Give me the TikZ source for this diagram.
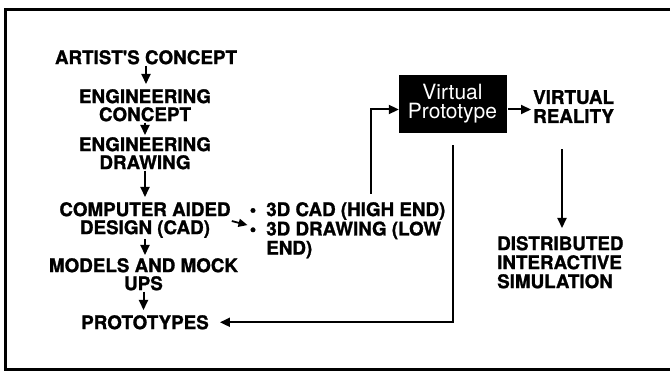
\documentclass[tikz,border=0pt]{standalone}
\usepackage{fontspec}
\setmainfont{TeX Gyre Heros}[BoldFeatures={FakeBold=1.2}]
\usetikzlibrary{arrows.meta}
\begin{document}
\begin{tikzpicture}[x=1pt,y=-1pt,
  lbl/.style={font=\bfseries\fontsize{18.8}{18}\selectfont, inner sep=0pt, align=center},
  lbll/.style={font=\bfseries\fontsize{18.8}{19}\selectfont, inner sep=0pt, align=left},
  arr/.style={line width=2pt, -{Triangle[length=10pt,width=9pt]}},
  vpbox/.style={fill=black, draw=black, minimum width=107pt, minimum height=57pt, inner sep=0pt,
    text=white, align=center, font=\fontsize{21}{19.5}\selectfont},
  frame/.style={line width=2.2pt}
]
\useasboundingbox (0,0) rectangle (670,374);
\draw[frame] (670,9.5) -- (5.5,9.5) -- (5.5,369.5) -- (670,369.5);

% left column
\node[lbl, anchor=north] (artist) at (146,50) {ARTIST\textquotesingle S CONCEPT};
\node[lbl, anchor=north] (engc) at (145,89) {ENGINEERING\\CONCEPT};
\node[lbl, anchor=north] (engd) at (145,137) {ENGINEERING\\DRAWING};
\node[lbl, anchor=north] (cad) at (145,202) {COMPUTER AIDED\\DESIGN (CAD)};
\node[lbl, anchor=north] (models) at (143.5,258) {MODELS AND MOCK\\UPS};
\node[lbl, anchor=north] (proto) at (145,315) {PROTOTYPES};

% bullets
\node[anchor=north west, inner sep=0pt, font=\bfseries\fontsize{18.8}{18}\selectfont] (bul) at (249.5,202)
  {\begin{tabular}{@{}c@{\hspace{10pt}}l@{}}\textbullet & 3D CAD (HIGH END)\\ \textbullet & 3D DRAWING (LOW\\ & END)\end{tabular}};

% right side
\node[vpbox] (vp) at (452.5,103.5) {Virtual\\Prototype};
\node[lbll, anchor=north west] (vr) at (533,90) {VIRTUAL\\REALITY};
\node[lbll, anchor=north west] (dis) at (497,236) {DISTRIBUTED\\INTERACTIVE\\SIMULATION};

\coordinate (fx) at (371,0);
\coordinate (ax) at (562,0);

% left column connectors
\draw[arr, shorten <=1pt, shorten >=5pt] (artist.south) -- (artist.south |- engc.north);
\draw[arr, shorten <=1pt, shorten >=2pt] (engc.south) -- (engc.south |- engd.north);
\draw[arr, shorten <=1pt, shorten >=5pt] (engd.south) -- (engd.south |- cad.north);
\draw[arr, shorten <=1pt, shorten >=3pt] (cad.south) -- (cad.south |- models.north);
\draw[arr, shorten <=1pt, shorten >=5pt] (models.south) -- (models.south |- proto.north);

% CAD to bullets
\draw[arr, line width=1.8pt, -{Triangle[length=9pt,width=8pt]}] ([xshift=1pt,yshift=-1pt]cad.east) -- ([xshift=-2pt,yshift=6pt]bul.west);

% feed to virtual prototype
\draw[arr] ([yshift=8pt]bul.north -| fx) |- ([yshift=-6pt]vp.west);
\draw[arr, shorten >=2pt] ([xshift=2pt,yshift=-6pt]vp.east) -- ([yshift=-6pt]vp.east -| vr.west);
\draw[arr] ([yshift=-26pt]vr.south -| ax) -- ([yshift=8pt]dis.north -| ax);
\draw[arr, shorten >=11pt] ([yshift=-13pt]vp.south) |- (proto.east);
\end{tikzpicture}
\end{document}
